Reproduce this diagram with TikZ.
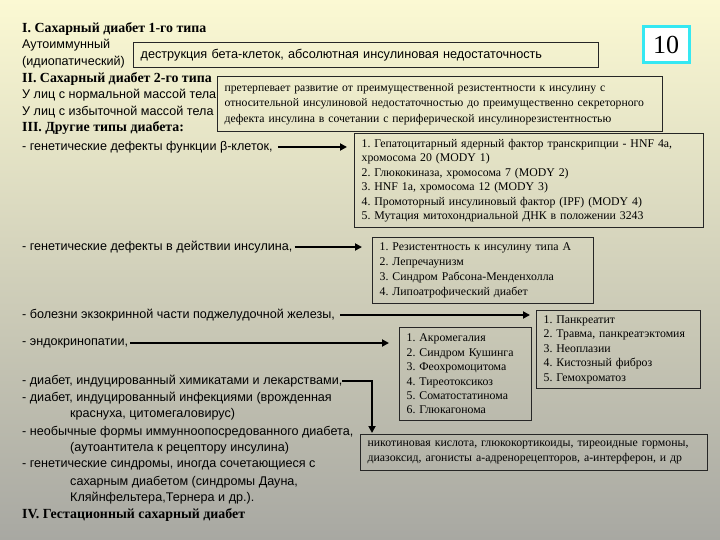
\documentclass[tikz,border=0pt]{standalone}
\usepackage{fontspec}
\setmainfont{Liberation Serif}
\setsansfont{Liberation Sans}
\usetikzlibrary{arrows.meta, positioning, calc}
\frenchspacing
\definecolor{bgtop}{HTML}{FBF9D3}
\definecolor{bgmid}{HTML}{DEDDBC}
\definecolor{bgbot}{HTML}{A8A8A2}
\definecolor{numcyan}{HTML}{35E8F2}
\tikzset{
  % riga di testo a sinistra
  txt/.style={anchor=west, inner sep=0pt, font=\sffamily\fontsize{12.6}{15}\selectfont},
  % titolo di sezione
  head/.style={anchor=west, inner sep=0pt, font=\rmfamily\bfseries\fontsize{13.9}{15}\selectfont},
  % riquadro con elenco
  listbox/.style={draw=black!85, line width=1.2pt, anchor=north west, align=left,
    inner xsep=7pt, inner ysep=0pt, font=\rmfamily\fontsize{11.8}{14.4}\selectfont},
  % freccia spessa
  arr/.style={-{Triangle[length=7pt,width=7pt]}, line width=2.2pt},
}
\begin{document}
\begin{tikzpicture}[x=1pt, y=-1pt]
  % sfondo sfumato
  \shade[top color=bgtop, middle color=bgmid, bottom color=bgbot] (0,0) rectangle (720,540);
  \useasboundingbox (0,0) rectangle (720,540);
  % colonna di sinistra
  \node[head] (t1head) at (22,29) {I. Сахарный диабет 1-го типа};
  \node[txt] (t1a) at (22,45) {Аутоиммунный};
  \node[txt] (t1b) at (22,62) {(идиопатический)};
  \node[head] (t2head) at (22,79) {II. Сахарный диабет 2-го типа};
  \node[txt] (t2a) at (22,95) {У лиц с нормальной массой тела};
  \node[txt] (t2b) at (22,112) {У лиц с избыточной массой тела};
  \node[head] (t3head) at (22,128) {III. Другие типы диабета:};
  \node[txt] (g1) at (22,147) {- генетические дефекты функции β-клеток,};
  \node[txt] (g2) at (22,247) {- генетические дефекты в действии инсулина,};
  \node[txt] (bol) at (22,315) {- болезни экзокринной части поджелудочной железы,};
  \node[txt] (endo) at (22,343) {- эндокринопатии,};
  \node[txt] (chem) at (22,381) {- диабет, индуцированный химикатами и лекарствами,};
  \node[txt] (inf) at (22,398) {- диабет, индуцированный инфекциями (врожденная};
  \node[txt] (inf2) at (70,414) {краснуха, цитомегаловирус)};
  \node[txt] (imm) at (22,432) {- необычные формы иммунноопосредованного диабета,};
  \node[txt] (imm2) at (70,448) {(аутоантитела к рецептору инсулина)};
  \node[txt] (syn) at (22,465) {- генетические синдромы, иногда сочетающиеся с};
  \node[txt] (syn2) at (70,482) {сахарным диабетом (синдромы Дауна,};
  \node[txt] (syn3) at (70,498) {Кляйнфельтера,Тернера и др.).};
  \node[head] (t4head) at (22,515) {IV. Гестационный сахарный диабет};
  % riquadri
  \node[listbox, minimum width=465, minimum height=25, text width=451,
    font=\sffamily\fontsize{12.7}{15}\selectfont] (destr) at (133,42)
    {деструкция бета-клеток, абсолютная инсулиновая недостаточность};
  \node[listbox, minimum width=445, minimum height=55, text width=431,
    font=\rmfamily\fontsize{11.7}{15.5}\selectfont] (resist) at (217,76)
    {претерпевает развитие от преимущественной резистентности к инсулину с\\
     относительной инсулиновой недостаточностью до преимущественно секреторного\\
     дефекта инсулина в сочетании с периферической инсулинорезистентностью};
  \node[listbox, minimum width=349, minimum height=94, text width=335] (mody) at (354,133)
    {1. Гепатоцитарный ядерный фактор транскрипции - HNF 4a,\\
     хромосома 20 (MODY 1)\\
     2. Глюкокиназа, хромосома 7 (MODY 2)\\
     3. HNF 1a, хромосома 12 (MODY 3)\\
     4. Промоторный инсулиновый фактор (IPF) (MODY 4)\\
     5. Мутация митохондриальной ДНК в положении 3243};
  \node[listbox, minimum width=221, minimum height=66, text width=207,
    font=\rmfamily\fontsize{11.8}{15}\selectfont] (inslist) at (372,237)
    {1. Резистентность к инсулину типа А\\
     2. Лепречаунизм\\
     3. Синдром Рабсона-Менденхолла\\
     4. Липоатрофический диабет};
  \node[listbox, minimum width=164, minimum height=78, text width=150] (pank) at (536,310)
    {1. Панкреатит\\
     2. Травма, панкреатэктомия\\
     3. Неоплазии\\
     4. Кистозный фиброз\\
     5. Гемохроматоз};
  \node[listbox, minimum width=132, minimum height=93, text width=118] (acro) at (399,327)
    {1. Акромегалия\\
     2. Синдром Кушинга\\
     3. Феохромоцитома\\
     4. Тиреотоксикоз\\
     5. Соматостатинома\\
     6. Глюкагонома};
  \node[listbox, minimum width=347, minimum height=36, text width=333,
    font=\rmfamily\fontsize{11.8}{15}\selectfont] (nico) at (360,434)
    {никотиновая кислота, глюкокортикоиды, тиреоидные гормоны,\\
     диазоксид, агонисты a-адренорецепторов, a-интерферон, и др};
  % numero della pagina
  \node[draw=numcyan, line width=3pt, fill=white, minimum width=46, minimum height=36,
    inner sep=0pt, font=\rmfamily\fontsize{26}{28}\selectfont] (num) at (666,45) {10};
  % frecce
  \draw[arr, shorten <=5pt, shorten >=7pt] (g1.east) -- (g1.east -| mody.west);
  \draw[arr, shorten <=2pt, shorten >=10pt] (g2.east) -- (g2.east -| inslist.west);
  \draw[arr, shorten <=5pt, shorten >=6pt] (bol.east) -- (bol.east -| pank.west);
  \draw[arr, shorten <=2pt, shorten >=10pt] (endo.east) -- (endo.east -| acro.west);
  \coordinate (bend) at (372,381);
  \draw[arr, shorten >=1pt] (chem.east) -- (bend) -- (bend |- nico.north);
\end{tikzpicture}
\end{document}
